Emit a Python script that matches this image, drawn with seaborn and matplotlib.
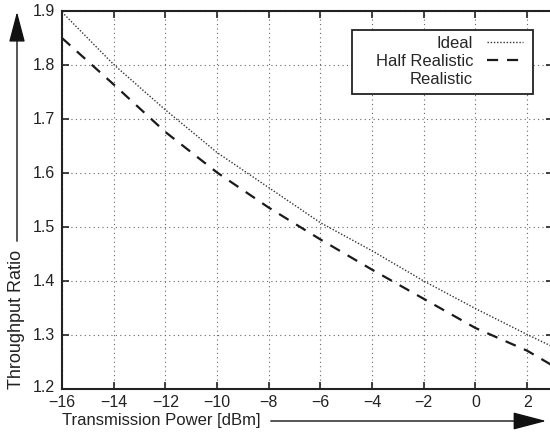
import matplotlib
matplotlib.use("Agg")
import matplotlib.pyplot as plt
from matplotlib.lines import Line2D
from matplotlib.patches import FancyArrowPatch, Rectangle
import matplotlib.transforms as mtransforms
import seaborn as sns
import pandas as pd

power_dbm = [-16, -14, -12, -10, -8, -6, -4, -2, 0, 2, 3]
ideal = [1.897, 1.800, 1.716, 1.637, 1.572, 1.507, 1.455, 1.399, 1.348, 1.300, 1.277]
half_realistic = [1.849, 1.763, 1.675, 1.600, 1.535, 1.476, 1.420, 1.366, 1.312, 1.270, 1.242]
series_names = ["Ideal", "Half Realistic", "Realistic"]
x_ticks = [-16, -14, -12, -10, -8, -6, -4, -2, 0, 2]
y_ticks = [1.2, 1.3, 1.4, 1.5, 1.6, 1.7, 1.8, 1.9]

df = pd.concat([
    pd.DataFrame({"power": power_dbm, "ratio": ideal, "series": series_names[0]}),
    pd.DataFrame({"power": power_dbm, "ratio": half_realistic, "series": series_names[1]}),
])

sns.set_style("ticks")
plt.rcParams["font.family"] = ["Liberation Sans", "DejaVu Sans"]

W, H = 550, 433
fig = plt.figure(figsize=(5.5, 4.33), dpi=100)
left_px, right_px, top_px, bot_px = 62, 553, 10.5, 388.5
ax = fig.add_axes([left_px / W, 1 - bot_px / H, (right_px - left_px) / W, (bot_px - top_px) / H])

ideal_style = dict(color="#333333", linestyle=(0, (1, 1.3)), linewidth=1.0)
half_style = dict(color="#1a1a1a", linestyle=(0, (5, 4)), linewidth=1.6)

sns.lineplot(data=df[df.series == series_names[0]], x="power", y="ratio", ax=ax,
             legend=False, **ideal_style)
sns.lineplot(data=df[df.series == series_names[1]], x="power", y="ratio", ax=ax,
             legend=False, **half_style)

ax.set_xlim(-16, 3)
ax.set_ylim(1.2, 1.9)
ax.set_xticks(x_ticks)
ax.set_yticks(y_ticks)
ax.set_xticklabels([str(t).replace("-", "\u2212") for t in x_ticks])
ax.set_yticklabels([f"{t:.1f}" for t in y_ticks])
ax.tick_params(direction="in", length=5, width=1.2, top=True, right=True,
               labelsize=11.5, colors="#222222")
ax.tick_params(axis="y", pad=5)
ax.tick_params(axis="x", pad=5)
lbl = ax.get_yticklabels()[0]
lbl.set_transform(lbl.get_transform() + mtransforms.ScaledTranslation(0, 2 / 100, fig.dpi_scale_trans))
ax.grid(True, linestyle=(0, (1, 3)), color="#666666", linewidth=0.8)
for s in ax.spines.values():
    s.set_linewidth(1.5)
    s.set_color("#222222")
ax.set_xlabel("")
ax.set_ylabel("")

# legend (frameless) plus a plain rectangular frame
handles = [
    Line2D([], [], **ideal_style),
    Line2D([], [], **half_style),
    Line2D([], [], linestyle="none"),
]
leg = fig.legend(handles, series_names, loc="upper right",
                 bbox_to_anchor=(523 / W, 1 - 36 / H), bbox_transform=fig.transFigure,
                 markerfirst=False, frameon=False,
                 fontsize=12, handlelength=2.15, borderpad=0, labelspacing=0.17,
                 handletextpad=0.85, borderaxespad=0)
leg._legend_box.align = "right"
fig.add_artist(Rectangle((352 / W, 1 - 94 / H), (533 - 352) / W, (94 - 30) / H,
                         transform=fig.transFigure, facecolor="white", edgecolor="#222222",
                         linewidth=1.3, zorder=leg.get_zorder() - 0.5))

# axis labels with arrows
fig.text(62 / W, 1 - 421 / H, "Transmission Power [dBm]", fontsize=12,
         ha="left", va="center", color="#222222")
fig.add_artist(FancyArrowPatch(
    (268 / W, 1 - 421 / H), (549 / W, 1 - 421 / H), transform=fig.transFigure,
    arrowstyle="-|>,head_length=2.1,head_width=0.55", mutation_scale=10,
    color="#111111", linewidth=1.0))
fig.text(17 / W, 1 - 389 / H, "Throughput Ratio", fontsize=13, rotation=90,
         ha="center", va="bottom", color="#222222")
fig.add_artist(FancyArrowPatch(
    (17 / W, 1 - 244 / H), (17 / W, 1 - 9 / H), transform=fig.transFigure,
    arrowstyle="-|>,head_length=1.9,head_width=0.5", mutation_scale=10,
    color="#111111", linewidth=1.0))

fig.savefig("out.png", dpi=100)
